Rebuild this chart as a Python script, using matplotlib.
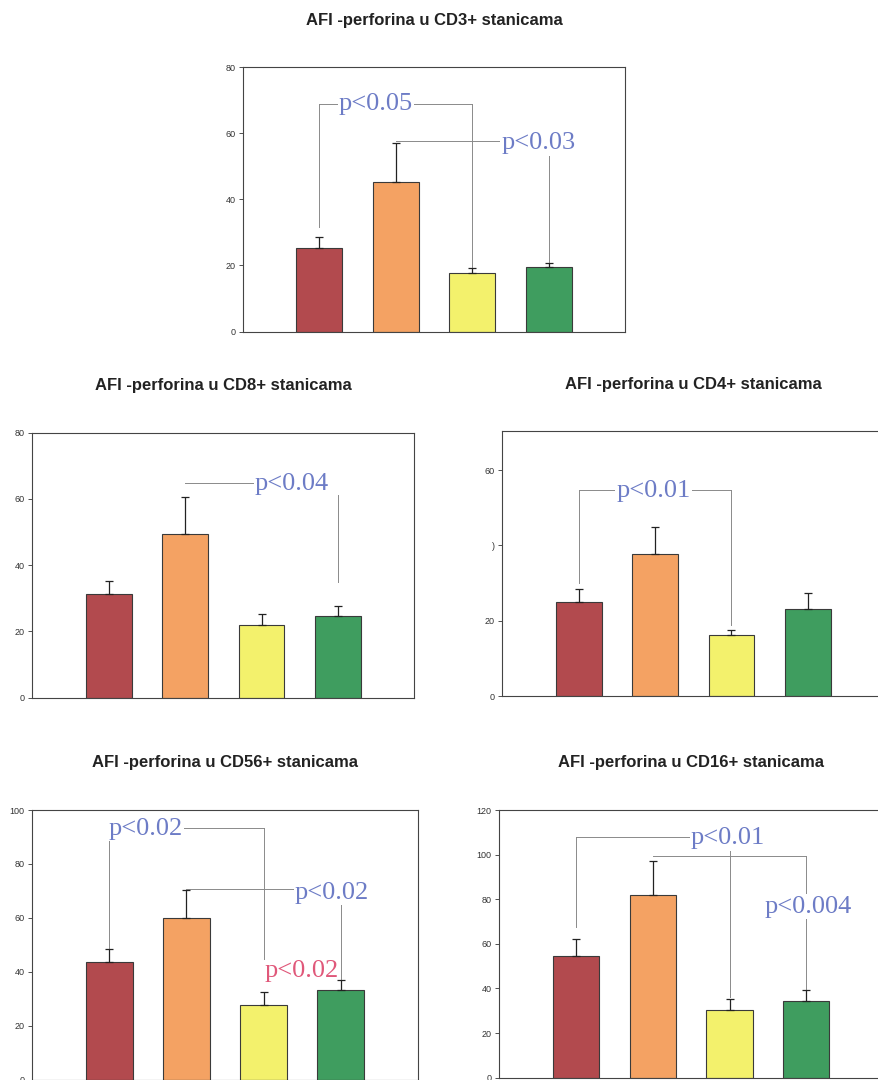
import matplotlib.pyplot as plt

plt.rcParams['font.family'] = ['Liberation Sans', 'DejaVu Sans']

groups = [1, 2, 3, 4]
bar_colors = ['#b24a4e', '#f4a263', '#f3f16c', '#3f9d5f']
blue = '#6d7cc6'
red = '#e0587a'

titles = ['AFI -perforina u CD3+ stanicama', 'AFI -perforina u CD8+ stanicama',
          'AFI -perforina u CD4+ stanicama', 'AFI -perforina u CD56+ stanicama',
          'AFI -perforina u CD16+ stanicama']

cd3_mean = [25.4, 45.1, 17.6, 19.5]
cd3_err = [3.1, 11.8, 1.7, 1.3]
cd8_mean = [31.3, 49.4, 22.0, 24.6]
cd8_err = [3.8, 11.3, 3.2, 3.1]
cd4_mean = [25.1, 37.6, 16.3, 23.2]
cd4_err = [3.2, 7.4, 1.2, 4.2]
cd56_mean = [43.7, 59.9, 27.7, 33.2]
cd56_err = [4.9, 10.4, 4.9, 3.9]
cd16_mean = [54.4, 82.0, 30.3, 34.5]
cd16_err = [7.9, 15.0, 5.1, 4.8]

cd3_ticks = [0, 20, 40, 60, 80]
cd8_ticks = [0, 20, 40, 60, 80]
cd4_ticks = [0, 20, 40, 60]
cd4_ticklabels = ['0', '20', ')', '60']
cd56_ticks = [0, 20, 40, 60, 80, 100]
cd16_ticks = [0, 20, 40, 60, 80, 100, 120]

# significance brackets: horizontal (x0, x1, y), vertical (x, ytop, ybottom), labels (x, y, text, colour, box)
cd3_h = [(1, 3, 68.8), (2, 4, 57.7)]
cd3_v = [(1, 68.8, 31.6), (3, 68.8, 19.6), (4, 57.7, 21.1)]
cd3_p = [(1.74, 68.8, 'p<0.05', blue, True), (3.87, 56.9, 'p<0.03', blue, True)]
cd8_h = [(2, 3.5, 64.9)]
cd8_v = [(4, 61.2, 35.0)]
cd8_p = [(3.4, 64.5, 'p<0.04', blue, True)]
cd4_h = [(1, 3, 54.7)]
cd4_v = [(1, 54.7, 29.9), (3, 54.7, 18.9)]
cd4_p = [(1.98, 54.5, 'p<0.01', blue, True)]
cd56_h = [(1, 3, 93.3), (2, 4, 70.7)]
cd56_v = [(1, 93.3, 49.0), (3, 93.3, 44.6), (4, 70.7, 37.4)]
cd56_p = [(1.47, 93.0, 'p<0.02', blue, True), (3.89, 69.4, 'p<0.02', blue, True),
          (3.5, 40.2, 'p<0.02', red, False)]
cd16_h = [(1, 3, 108.0), (2, 4, 99.4)]
cd16_v = [(1, 108.0, 67.7), (3, 108.0, 36.3), (4, 99.4, 39.3)]
cd16_p = [(2.98, 107.3, 'p<0.01', blue, True), (4.03, 76.6, 'p<0.004', blue, True)]

W, H = 879, 1080
fig = plt.figure(figsize=(W / 100, H / 100), dpi=100)
fig.patch.set_facecolor('white')

# axes boxes in pixels: left, top, right, bottom
boxes = [(243, 67, 625, 331.5), (32.3, 432.7, 414.3, 697.7), (502.3, 431, 884.3, 696),
         (32.3, 810, 417.7, 1079.7), (499.3, 810, 883, 1077.7)]

panels = [
    (cd3_mean, cd3_err, (0, 80), cd3_ticks, None, cd3_h, cd3_v, cd3_p),
    (cd8_mean, cd8_err, (0, 80), cd8_ticks, None, cd8_h, cd8_v, cd8_p),
    (cd4_mean, cd4_err, (0, 70.4), cd4_ticks, cd4_ticklabels, cd4_h, cd4_v, cd4_p),
    (cd56_mean, cd56_err, (0, 100), cd56_ticks, None, cd56_h, cd56_v, cd56_p),
    (cd16_mean, cd16_err, (0, 120), cd16_ticks, None, cd16_h, cd16_v, cd16_p),
]

for k, (mean, err, ylim, ticks, ticklabels, hl, vl, pl) in enumerate(panels):
    l, t, r, b = boxes[k]
    ax = fig.add_axes([l / W, 1 - b / H, (r - l) / W, (b - t) / H])
    ax.bar(groups, mean, width=0.6, color=bar_colors, edgecolor='#3a3a3a', linewidth=0.8, zorder=2)
    ax.errorbar(groups, mean, yerr=[[0] * 4, err], fmt='none', ecolor='#222222',
                elinewidth=0.9, capsize=3, capthick=0.9, zorder=3)
    for x0, x1, y in hl:
        ax.plot([x0, x1], [y, y], color='#8a8a8a', lw=0.7, zorder=1)
    for x, y0, y1 in vl:
        ax.plot([x, x], [y0, y1], color='#8a8a8a', lw=0.7, zorder=1)
    for x, y, txt, col, box in pl:
        kw = dict(boxstyle='square,pad=0.05', fc='white', ec='none') if box else None
        ax.text(x, y, txt, color=col, fontsize=19, family='Liberation Serif',
                ha='center', va='center', bbox=kw, zorder=4)
    ax.set_xlim(0, 5)
    ax.set_ylim(*ylim)
    ax.set_yticks(ticks)
    if ticklabels:
        ax.set_yticklabels(ticklabels)
    ax.set_xticks([])
    ax.tick_params(axis='y', labelsize=6.5, length=3, width=0.6, pad=2.5, colors='#333333')
    for s in ax.spines.values():
        s.set_color('#444444')
        s.set_linewidth(0.8)
    ax.text(0.5, 1 + 47 / (b - t), titles[k], transform=ax.transAxes, ha='center', va='center',
            fontsize=12, fontweight='bold', color='#222222')

plt.savefig('out.png', dpi=100, facecolor='white')
